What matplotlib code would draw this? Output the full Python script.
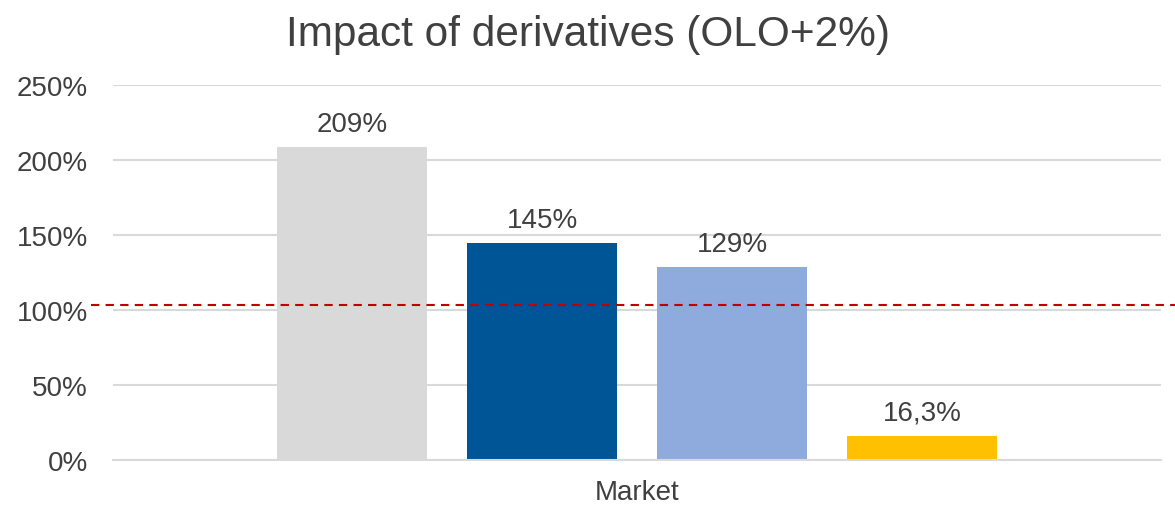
import numpy as np
import matplotlib.pyplot as plt

plt.rcParams['font.family'] = ['Liberation Sans', 'DejaVu Sans']

category = "Market"
values = [2.09, 1.45, 1.29, 0.163]
labels = ["209%", "145%", "129%", "16,3%"]
colors = ["#D9D9D9", "#005596", "#8FAADC", "#FFC000"]
threshold = 1.033
yticks = [0, 0.5, 1.0, 1.5, 2.0, 2.5]

text_color = "#404040"

fig = plt.figure(figsize=(11.75, 5.06), dpi=100)
ax = fig.add_axes([0.0962, 0.0889, 0.8919, 0.7411])

step = 0.19
width = 0.15
offsets = (np.arange(len(values)) - (len(values) - 1) / 2) * step
bars = ax.bar(offsets, values, width=width, color=colors, zorder=2)

for b, lab in zip(bars, labels):
    ax.annotate(lab, (b.get_x() + b.get_width() / 2, b.get_height()),
                xytext=(0, 7), textcoords="offset points",
                ha="center", va="bottom", fontsize=20, color=text_color)

ax.set_xlim(-0.524, 0.524)
ax.set_ylim(0, 2.5)
ax.set_yticks(yticks)
ax.set_yticklabels([f"{int(round(t * 100))}%" for t in yticks])
ax.set_xticks([0])
ax.set_xticklabels([category])
ax.tick_params(axis="both", length=0, labelsize=20, labelcolor=text_color)
ax.tick_params(axis="y", pad=18)
ax.tick_params(axis="x", pad=14)

ax.grid(axis="y", color="#D9D9D9", linewidth=1.5, zorder=0)
for s in ["top", "right", "left"]:
    ax.spines[s].set_visible(False)
ax.spines["bottom"].set_color("#D9D9D9")
ax.spines["bottom"].set_linewidth(1.5)

ax.axhline(threshold, xmin=-0.021, xmax=1.02, color="#C00000", linestyle=(0, (4, 3)),
           linewidth=1.5, clip_on=False, zorder=3)

fig.text(0.5, 0.93, "Impact of derivatives (OLO+2%)", ha="center", va="center",
         fontsize=30.5, color=text_color)

fig.savefig("out.png", dpi=100)
